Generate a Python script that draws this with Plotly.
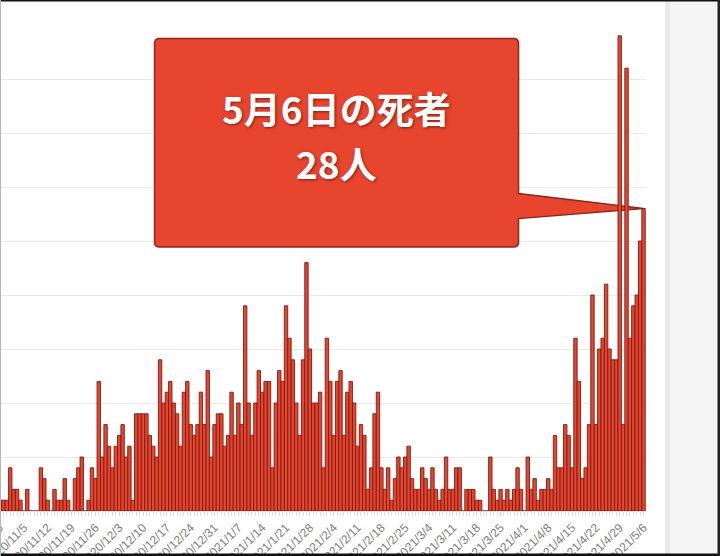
import pandas as pd
import plotly.graph_objects as go

# daily deaths, one bar per day starting 2020/10/29
start_date = "2020-10-29"
deaths = [
    1, 1, 1, 4, 2, 2, 1, 0, 2, 0, 0, 0, 4, 3, 1, 0, 2, 1, 1, 3,
    1, 0, 3, 4, 5, 0, 1, 4, 3, 12, 5, 8, 6, 4, 6, 7, 8, 5, 6, 1,
    9, 9, 9, 9, 7, 6, 5, 14, 10, 11, 12, 10, 9, 6, 11, 12, 8, 7, 8, 11,
    8, 13, 5, 8, 9, 9, 6, 7, 11, 7, 10, 8, 19, 10, 7, 10, 13, 11, 12, 12,
    4, 10, 13, 12, 19, 16, 14, 10, 7, 14, 23, 15, 10, 10, 11, 4, 16, 12, 7, 12,
    13, 7, 11, 12, 10, 6, 8, 7, 2, 4, 9, 11, 4, 2, 4, 1, 3, 5, 4, 5,
    6, 3, 2, 2, 4, 3, 2, 4, 2, 1, 2, 5, 2, 2, 4, 4, 0, 2, 2, 2,
    1, 1, 0, 0, 5, 2, 1, 2, 1, 2, 1, 2, 4, 2, 0, 5, 2, 3, 1, 2,
    2, 3, 2, 7, 4, 4, 8, 7, 4, 16, 12, 3, 4, 8, 20, 8, 15, 16, 21, 15,
    14, 14, 44, 8, 41, 16, 19, 20, 25, 28,
]
dates = pd.date_range(start_date, periods=len(deaths), freq="D")
last_day = dates[-1]

W, H = 720, 556
ML, MR, MT, MB = 0, 74, 25, 45
PW = W - ML - MR
PH = H - MT - MB

BAR = "#e8452f"
EDGE = "#761c15"
BOX_EDGE = "#8a2a1c"


def px_x(p):
    return (p - ML) / PW


def px_y(p):
    return (H - MB - p) / PH


fig = go.Figure()
fig.add_trace(go.Bar(
    x=dates, y=deaths,
    marker=dict(color=BAR, line=dict(color=EDGE, width=0.9)),
    hoverinfo="skip",
))

day = pd.Timedelta(days=1)
fig.update_layout(
    width=W, height=H,
    margin=dict(l=ML, r=MR, t=MT, b=MB),
    paper_bgcolor="white", plot_bgcolor="white",
    bargap=0, showlegend=False,
    font=dict(family="Liberation Sans, Arial", color="#808080"),
    xaxis=dict(
        type="date",
        range=[dates[0] - 0.01 * day, last_day + 0.72 * day],
        tick0=start_date, dtick=7 * 86400000,
        tickformat="%Y/%-m/%-d", tickangle=-45,
        tickfont=dict(size=12, color="#7c7c7c"),
        ticklabeloverflow="allow",
        ticks="outside", ticklen=4, tickcolor="#d4d4d4",
        minor=dict(dtick=86400000, ticks="outside", ticklen=4, tickcolor="#dcdcdc", showgrid=False),
        showgrid=False, showline=True, linecolor="#e0e0e0",
        automargin=False,
    ),
    yaxis=dict(
        range=[0, 45], dtick=5,
        showgrid=True, gridcolor="#e9e9e9", gridwidth=1,
        showticklabels=False, zeroline=False, ticks="",
        automargin=False,
    ),
)

# callout box with pointer to the last bar (pixel path, y up, tip at bar top)
callout = ("M -484,170 L -130,170 Q -125,170 -125,165 L -125,15 L 0,0 "
           "L -125,-10 L -125,-33.5 Q -125,-38.5 -130,-38.5 L -484,-38.5 "
           "Q -489,-38.5 -489,-33.5 L -489,165 Q -489,170 -484,170 Z")
fig.add_shape(
    type="path", path=callout,
    xref="x", yref="y", xsizemode="pixel", ysizemode="pixel",
    xanchor=last_day.strftime("%Y-%m-%d"), yanchor=deaths[-1],
    fillcolor=BAR, line=dict(color=BOX_EDGE, width=1.5), layer="between",
)

label1 = f"{last_day.month}月{last_day.day}日の死者"
label2 = f"{deaths[-1]}人"
txt = dict(family="Noto Sans CJK JP", size=37, color="white", weight="bold",
           shadow="1px 1px 3px rgba(60,0,0,0.6)")
for text, dy in [(label1, 101), (label2, 46)]:
    fig.add_annotation(
        x=last_day.strftime("%Y-%m-%d"), y=deaths[-1], xref="x", yref="y",
        text=text, showarrow=False, xshift=-307, yshift=dy, font=txt,
    )

# screenshot frame: grey side panel and dark borders
frame = [
    (665, 720, 0, 556, "#f5f5f5"),
    (665, 670, 0, 556, "#e9e9e9"),
    (0, 720, 0, 1.5, "#111111"),
    (0, 720, 553.5, 556, "#111111"),
    (717.5, 720, 0, 556, "#222222"),
    (0, 1, 0, 556, "#b5b5b5"),
]
for x0, x1, y0, y1, c in frame:
    fig.add_shape(type="rect", xref="paper", yref="paper",
                  x0=px_x(x0), x1=px_x(x1), y0=px_y(y1), y1=px_y(y0),
                  fillcolor=c, line=dict(width=0), layer="above")

fig.write_html(
    "out.html",
    config=dict(displayModeBar=False, staticPlot=True),
    post_script="document.body.style.margin='0px';document.body.style.overflow='hidden';",
)
